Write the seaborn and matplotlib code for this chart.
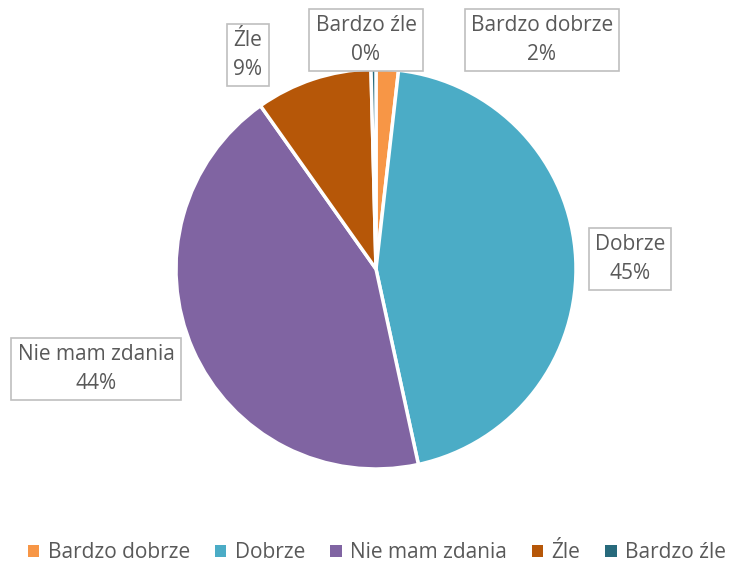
import matplotlib
matplotlib.use("Agg")
import matplotlib.pyplot as plt
import seaborn as sns
from matplotlib.patches import Patch

categories = ["Bardzo dobrze", "Dobrze", "Nie mam zdania", "Źle", "Bardzo źle"]
values = [1.8, 44.8, 43.6, 9.4, 0.4]
colors = ["#F79646", "#4BACC6", "#8064A2", "#B65708", "#276A7C"]

sns.set_theme(style="white")
plt.rcParams["font.family"] = ["Open Sans", "DejaVu Sans"]

W, H = 735, 564
fig = plt.figure(figsize=(W / 100, H / 100), dpi=100)
cx, cy, r = 376, 269, 200
ax = fig.add_axes([(cx - r) / W, (H - cy - r) / H, 2 * r / W, 2 * r / H])

pal = sns.color_palette(colors)
ax.pie(values, colors=pal, startangle=90, counterclock=False, radius=1,
       wedgeprops=dict(edgecolor="white", linewidth=2.5))
ax.set_xlim(-1, 1)
ax.set_ylim(-1, 1)
ax.set_aspect("equal")
ax.axis("off")

# label box centres in pixels (layout)
label_pos = {
    "Bardzo dobrze": (542, 40),
    "Dobrze": (630, 259),
    "Nie mam zdania": (96, 369),
    "Źle": (248, 55),
    "Bardzo źle": (366, 40),
}
for cat, v in zip(categories, values):
    px, py = label_pos[cat]
    ax.text((px - cx) / r, (cy - py) / r, f"{cat}\n{round(v):.0f}%",
            ha="center", va="center", fontsize=15, color="#595959",
            linespacing=1.45,
            bbox=dict(boxstyle="square,pad=0.3", fc="white", ec="#BFBFBF", lw=1.2))

handles = [Patch(facecolor=c, edgecolor="none") for c in pal]
fig.legend(handles, categories, loc="lower center", bbox_to_anchor=(0.513, -0.032),
           ncol=5, frameon=False, fontsize=15, handlelength=0.55, handleheight=0.55,
           handletextpad=0.4, columnspacing=1.2, labelcolor="#595959")

fig.savefig("out.png", dpi=100)
